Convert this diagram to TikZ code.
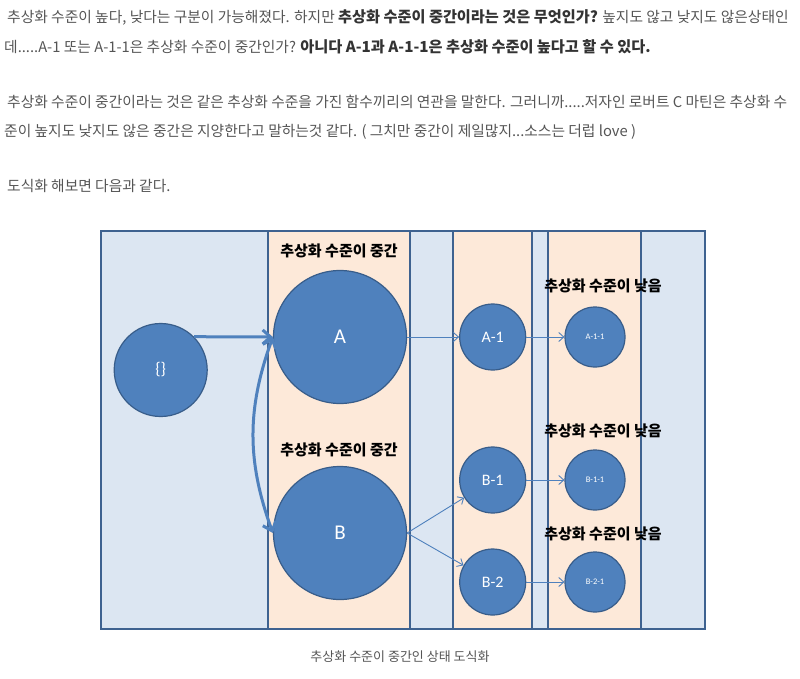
\documentclass[tikz,border=0pt]{standalone}
\usepackage{fontspec}
\setmainfont{Noto Sans CJK KR}
\newfontfamily\latinsans{Carlito}
\usetikzlibrary{arrows.meta}
\definecolor{skyfill}{HTML}{DCE6F2}
\definecolor{peachfill}{HTML}{FDE9D9}
\definecolor{frameline}{HTML}{3E6290}
\definecolor{ballfill}{HTML}{4F81BD}
\definecolor{ballline}{HTML}{385D8A}
\definecolor{bodytext}{HTML}{555555}
\definecolor{boldtext}{HTML}{333333}
\newcommand\boldpart[1]{{\bfseries\fontsize{15.2}{16}\selectfont\color{boldtext}#1}}

\begin{document}
\begin{tikzpicture}[x=1pt, y=-1pt,
                    every node/.style={inner sep=0pt},
                    line/.style={anchor=base west, text=bodytext,
                      font=\fontsize{14.75}{16}\selectfont},
                    frame/.style={draw=frameline, line width=2pt},
                    ball/.style={circle, draw=ballline, line width=1.2pt,
                      fill=ballfill, text=white},
                    big ball/.style={ball, minimum size=133pt,
                      font=\latinsans\fontsize{21}{21}\selectfont},
                    mid ball/.style={ball, minimum size=66pt,
                      font=\latinsans\fontsize{16}{16}\selectfont},
                    small ball/.style={ball, minimum size=60pt,
                      font=\latinsans\fontsize{8.5}{9}\selectfont},
                    tag/.style={font=\bfseries\fontsize{15}{16}\selectfont},
                    wide arrow/.style={draw=ballfill, line width=3pt,
                      -{Straight Barb[length=8pt, width=14pt]}},
                    thin arrow/.style={draw=ballfill, line width=0.9pt,
                      -{Straight Barb[length=5pt, width=9pt]}}]
  \useasboundingbox (0,0) rectangle (800,678);
  % text above the picture
  \node[line] (l1) at (7,22) {추상화 수준이 높다, 낮다는 구분이 가능해졌다. 하지만
    \boldpart{추상화 수준이 중간이라는 것은 무엇인가?} 높지도 않고 낮지도 않은상태인};
  \node[line] (l2) at (4,52) {데.....A-1 또는 A-1-1은 추상화 수준이 중간인가?
    \boldpart{아니다 A-1과 A-1-1은 추상화 수준이 높다고 할 수 있다.}};
  \node[line] (l3) at (7,107) {추상화 수준이 중간이라는 것은 같은 추상화 수준을 가진 함수끼리의 연관을 말한다. 그러니까.....저자인 로버트 C 마틴은 추상화 수};
  \node[line] (l4) at (4,136) {준이 높지도 낮지도 않은 중간은 지양한다고 말하는것 같다. ( 그치만 중간이 제일많지...소스는 더럽 love )};
  \node[line] (l5) at (7,191) {도식화 해보면 다음과 같다.};

  % panels
  \fill[skyfill] (101,231) rectangle (705,629);
  \fill[peachfill] (268,231) rectangle (410,629);
  \fill[peachfill] (453,231) rectangle (532,629);
  \fill[peachfill] (548,231) rectangle (641,629);
  \foreach \xa in {268,410,453,532,548,641}
    \draw[frame] (\xa,231) -- (\xa,629);
  \draw[frame] (101,231) rectangle (705,629);

  % levels
  \node[tag] (mid1) at (339,251) {추상화 수준이 중간};
  \node[tag] (mid2) at (339,450) {추상화 수준이 중간};
  \node[tag] (low1) at (603,286) {추상화 수준이 낮음};
  \node[tag] (low2) at (603,431) {추상화 수준이 낮음};
  \node[tag] (low3) at (603,534) {추상화 수준이 낮음};

  % functions
  \node[ball, minimum size=93pt, font=\latinsans\fontsize{17}{17}\selectfont]
    (root) at (160.7,370) {\{\}};
  \node[big ball] (A) at (340,337) {A};
  \node[big ball] (B) at (340,533) {B};
  \node[mid ball] (A1) at (492.7,337) {A-1};
  \node[mid ball] (B1) at (492.7,480) {B-1};
  \node[mid ball] (B2) at (492.7,582) {B-2};
  \node[small ball] (A11) at (595,337) {A-1-1};
  \node[small ball] (B11) at (595,480) {B-1-1};
  \node[small ball] (B21) at (595,582) {B-2-1};

  \draw[wide arrow] (root.45) -- (A.west);
  \draw[wide arrow, {Straight Barb[length=8pt, width=14pt]}-{Straight Barb[length=8pt, width=14pt]}]
    (A.west) to[bend right=20] (B.west);
  \draw[thin arrow] (A) -- (A1);
  \draw[thin arrow] (A1) -- (A11);
  \draw[thin arrow] (B.east) -- (B1);
  \draw[thin arrow] (B.east) -- (B2);
  \draw[thin arrow] (B1) -- (B11);
  \draw[thin arrow] (B2) -- (B21);

  \node[text=bodytext, font=\fontsize{13}{14}\selectfont] (cap) at (400,657)
    {추상화 수준이 중간인 상태 도식화};
\end{tikzpicture}
\end{document}
